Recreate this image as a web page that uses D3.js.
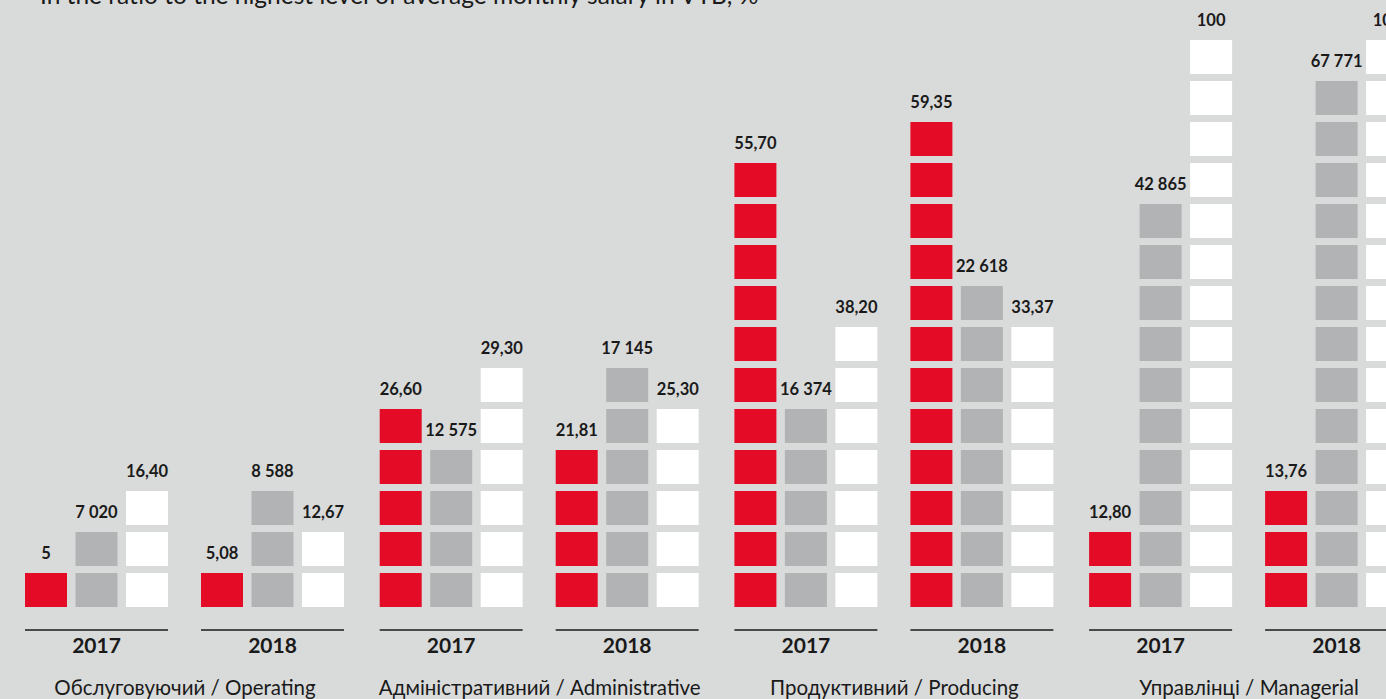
<!DOCTYPE html>
<html>
<head>
<meta charset="utf-8">
<script src="https://cdn.jsdelivr.net/npm/d3@7"></script>
<style>
  html, body { margin: 0; padding: 0; background: #d9dbda; overflow: hidden; }
  text { font-family: Lato, "Open Sans", sans-serif; fill: #1a1a1a; }
</style>
</head>
<body>
<div id="chart"></div>
<script>
// categories and years
var categories = ["Обслуговуючий / Operating", "Адміністративний / Administrative",
                  "Продуктивний / Producing", "Управлінці / Managerial"];
var years = ["2017", "2018"];
var seriesNames = ["share", "salary", "ratio"];

// values, in order cat0-2017, cat0-2018, cat1-2017, ...
var shareValues  = [5, 5.08, 26.60, 21.81, 55.70, 59.35, 12.80, 13.76];
var salaryValues = [7020, 8588, 12575, 17145, 16374, 22618, 42865, 67771];
var ratioValues  = [16.40, 12.67, 29.30, 25.30, 38.20, 33.37, 100, 100];

// number of squares in each column
var shareBlocks  = [1, 1, 5, 4, 11, 12, 2, 3];
var salaryBlocks = [2, 3, 4, 6, 5, 8, 10, 13];
var ratioBlocks  = [3, 2, 6, 5, 7, 7, 14, 14];

var title = "In the ratio to the highest level of average monthly salary in VTB, %";

var colors = { share: "#e30b26", salary: "#b2b3b5", ratio: "#ffffff" };

var width = 1386, height = 699;

var svg = d3.select("#chart").append("svg")
    .attr("width", width)
    .attr("height", height);

// title (cut off at the top in the original)
svg.append("text")
    .attr("x", 40)
    .attr("y", 4)
    .style("font-size", "24.5px")
    .text(title);

// x scales: category -> year -> series
var x_cat = d3.scaleBand()
    .domain(categories)
    .range([25, 25 + 4 * 354.7]);

var x_year = d3.scaleBand()
    .domain(years)
    .range([0, 352]);

var x_ser = d3.scaleBand()
    .domain(seriesNames)
    .range([0, 143])
    .paddingInner(0.1683);

// y scale in square units
var blockH = 34;
var y = d3.scaleLinear()
    .domain([0, 14])
    .range([607, 607 - 14 * 41]);

var dec = d3.formatLocale({ decimal: ",", thousands: " ", grouping: [3], currency: ["", ""] });
var fmtPct = dec.format(".2f"), fmtInt = dec.format(",d");
function label(v, s) {
    if (s === "salary") return fmtInt(v);
    return Number.isInteger(v) ? String(v) : fmtPct(v);
}

// flatten into columns
var columns = [];
categories.forEach(function(c, ci) {
    years.forEach(function(yr, yi) {
        var i = ci * 2 + yi;
        columns.push({ cat: c, year: yr, s: "share",  v: shareValues[i],  n: shareBlocks[i] });
        columns.push({ cat: c, year: yr, s: "salary", v: salaryValues[i], n: salaryBlocks[i] });
        columns.push({ cat: c, year: yr, s: "ratio",  v: ratioValues[i],  n: ratioBlocks[i] });
    });
});

function colX(d) { return x_cat(d.cat) + x_year(d.year) + x_ser(d.s); }

var col = svg.selectAll(".col")
    .data(columns)
    .enter()
    .append("g")
    .attr("class", "col")
    .attr("transform", function(d) { return "translate(" + colX(d) + ",0)"; });

col.selectAll("rect")
    .data(function(d) { return d3.range(d.n).map(function(k) { return { k: k, s: d.s }; }); })
    .enter()
    .append("rect")
    .attr("x", 0)
    .attr("y", function(b) { return y(b.k) - blockH; })
    .attr("width", x_ser.bandwidth())
    .attr("height", blockH)
    .attr("fill", function(b) { return colors[b.s]; });

// value label sits 14px above the top square
col.append("text")
    .attr("x", x_ser.bandwidth() / 2)
    .attr("y", function(d) { return y(d.n - 1) - blockH - 14; })
    .attr("text-anchor", "middle")
    .style("font-size", "16.5px")
    .style("font-weight", "bold")
    .text(function(d) { return label(d.v, d.s); });

// year baselines and labels
var yearGroups = [];
categories.forEach(function(c) { years.forEach(function(yr) { yearGroups.push({ cat: c, year: yr }); }); });

var yg = svg.selectAll(".yr")
    .data(yearGroups)
    .enter()
    .append("g")
    .attr("class", "yr")
    .attr("transform", function(d) { return "translate(" + (x_cat(d.cat) + x_year(d.year)) + ",0)"; });

yg.append("line")
    .attr("x1", 0).attr("x2", 143)
    .attr("y1", 630).attr("y2", 630)
    .attr("stroke", "#1a1a1a")
    .attr("stroke-width", 1.3);

yg.append("text")
    .attr("x", 71.5)
    .attr("y", 653)
    .attr("text-anchor", "middle")
    .style("font-size", "21px")
    .style("font-weight", "bold")
    .text(function(d) { return d.year; });

// category labels
svg.selectAll(".cat")
    .data(categories)
    .enter()
    .append("text")
    .attr("class", "cat")
    .attr("x", function(d) { return x_cat(d) + 160; })
    .attr("y", 695)
    .attr("text-anchor", "middle")
    .style("font-size", "20.5px")
    .text(function(d) { return d; });
</script>
</body>
</html>
